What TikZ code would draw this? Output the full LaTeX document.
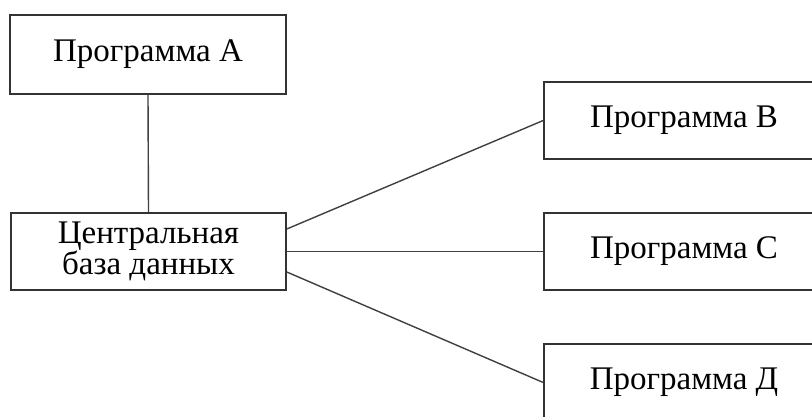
\documentclass[tikz,border=0pt]{standalone}
\usepackage{fontspec}
\setmainfont{Liberation Serif}
\begin{document}
\begin{tikzpicture}[x=1pt,y=-1pt,
  box/.style={draw=black!80, line width=1.6pt, fill=white, minimum height=77pt, inner sep=0pt, align=center, font=\fontsize{33}{30}\selectfont},
  link/.style={draw=black!75, line width=1.4pt}]
\useasboundingbox (0,0) rectangle (812,417);
\clip (0,0) rectangle (812,417);
\fill[white] (0,0) rectangle (812,417);
\node[box, minimum width=276pt, minimum height=79pt] (a) at (148,54.5) {Программа A};
\node[box, minimum width=275pt] (db) at (148.5,251.5) {Центральная\\база данных};
\node[box, minimum width=280pt] (b) at (684,120.5) {Программа B};
\node[box, minimum width=280pt] (c) at (684,251.5) {Программа C};
\node[box, minimum width=280pt] (d) at (684,382.5) {Программа Д};
\draw[link] (a.south) -- (db.north);
\draw[link] ([yshift=22.5pt]db.east) -- (b.west);
\draw[link] (db.east) -- (c.west);
\draw[link] ([yshift=-20.5pt]db.east) -- (d.west);
\end{tikzpicture}
\end{document}
